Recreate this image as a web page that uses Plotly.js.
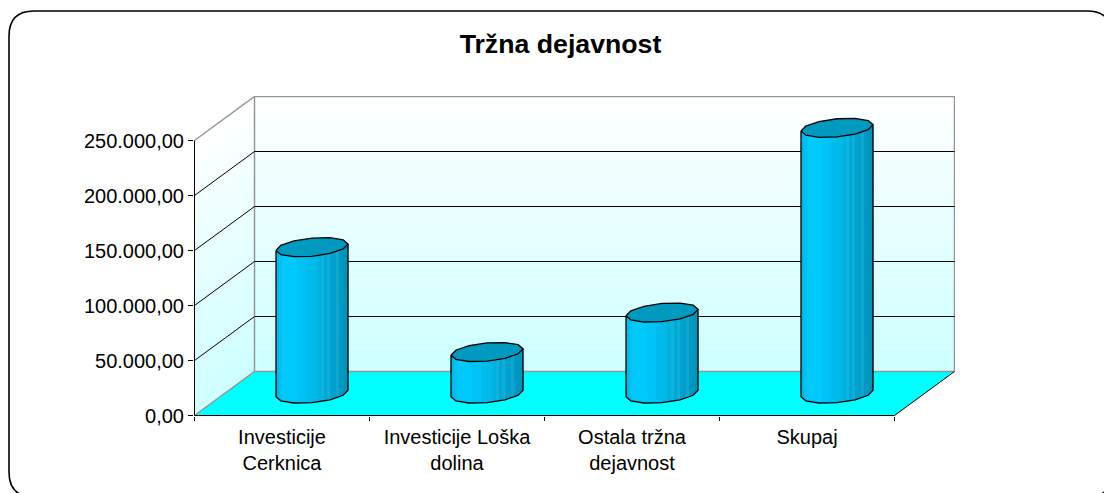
<!DOCTYPE html>
<html>
<head>
<meta charset="utf-8">
<script src="https://cdn.plot.ly/plotly-3.0.1.min.js"></script>
<style>html,body{margin:0;padding:0;background:#fff;overflow:hidden}</style>
</head>
<body>
<div id="chart" style="width:1104px;height:493px"></div>
<script>
const categories = ['Investicije<br>Cerknica', 'Investicije Loška<br>dolina', 'Ostala tržna<br>dejavnost', 'Skupaj'];
const values = [133000, 37700, 73600, 241500];
const yTicks = [0, 50000, 100000, 150000, 200000, 250000];
const titleText = 'Tržna dejavnost';

const W = 1104, H = 493;
const M = {l: 194, r: 149, t: 96, b: 77};
const PXX = 1 / 175, PXY = 250000 / 275;   // axis units per pixel
const DX = 60 * PXX, DY = 40000;           // depth of the 3D box, in axis units
const XEND = 4 + DX, YEND = 250000 + DY;
const RX = 36 * PXX, RY = 9.1 * PXY, SL = 3.2 * PXY;
const stripColors = ['#00B9E8','#00C2F2','#08C6F7','#00CAFC','#00CAFC','#00CAFC','#00C9FA','#00C4F5','#00C4F5','#00C3F3',
  '#00BCEC','#00BCEC','#00BAEA','#00B7E6','#00B0DE','#10B3DE','#00A9D5','#10ADD7','#00A3CF','#00A0CC','#0EA6CF','#0099C4','#0096BE','#0092B8'];
const capColor = '#0099BF', floorColor = '#00FFFF';

function mix(t) { // pale cyan at t=0 to white at t=1
  const r = Math.round(204 + 51 * t);
  return 'rgb(' + r + ',255,255)';
}

const shapes = [];
const BANDS = 36;
for (let b = 0; b < BANDS; b++) {
  const v0 = 250000 * b / BANDS, v1 = 250000 * (b + 1) / BANDS, c = mix((b + 0.5) / BANDS);
  shapes.push({type: 'rect', layer: 'below', xref: 'x', yref: 'y', x0: DX, x1: XEND, y0: v0 + DY, y1: v1 + DY,
    line: {width: 0}, fillcolor: c});
  shapes.push({type: 'path', layer: 'below', xref: 'x', yref: 'y',
    path: `M0,${v0} L${DX},${v0 + DY} L${DX},${v1 + DY} L0,${v1} Z`, line: {width: 0}, fillcolor: c});
}
shapes.push({type: 'path', layer: 'below', xref: 'x', yref: 'y',
  path: `M0,0 L4,0 L${XEND},${DY} L${DX},${DY} Z`, line: {width: 0}, fillcolor: floorColor});

// rounded outer frame (partly beyond the page edge, as in the reference)
const pw = W - M.l - M.r, ph = H - M.t - M.b;
const fx = p => (p - M.l) / pw, fy = p => 1 - (p - M.t) / ph;
const L = 9, T = 11, R = 1112, B = 497, C = 25;
shapes.push({type: 'path', xref: 'paper', yref: 'paper', layer: 'above',
  path: `M${fx(L + C)},${fy(T)} L${fx(R - C)},${fy(T)} Q${fx(R)},${fy(T)} ${fx(R)},${fy(T + C)} L${fx(R)},${fy(B - C)} Q${fx(R)},${fy(B)} ${fx(R - C)},${fy(B)} L${fx(L + C)},${fy(B)} Q${fx(L)},${fy(B)} ${fx(L)},${fy(B - C)} L${fx(L)},${fy(T + C)} Q${fx(L)},${fy(T)} ${fx(L + C)},${fy(T)} Z`,
  line: {color: '#000', width: 1.6}, fillcolor: 'rgba(0,0,0,0)'});

const traces = [];
// box lines
const gx = [], gy = [], bx = [], by = [];
function seg(ax, ay, xs, ys) { ax.push(...xs, null); ay.push(...ys, null); }
seg(gx, gy, [0, DX], [250000, YEND]);
seg(gx, gy, [DX, XEND, XEND], [YEND, YEND, DY]);
seg(gx, gy, [DX, DX], [DY, YEND]);
seg(gx, gy, [0, DX, XEND], [0, DY, DY]);
yTicks.slice(1, -1).forEach(v => {
  seg(bx, by, [0, DX, XEND], [v, v + DY, v + DY]);
});
seg(bx, by, [0, 0, 4, XEND], [250000, 0, 0, DY]);
traces.push({x: gx, y: gy, mode: 'lines', line: {color: '#969696', width: 1.5}, cliponaxis: false, hoverinfo: 'skip', showlegend: false});
traces.push({x: bx, y: by, mode: 'lines', line: {color: '#000', width: 1}, cliponaxis: false, hoverinfo: 'skip', showlegend: false});

// cylinders: the base outline is a coarse 12-sided polygon, as in the reference
const SEG = 6;
const knots = [];
for (let k = 0; k <= SEG; k++) knots.push(-Math.cos(Math.PI * k / SEG));
const lowK = u => -RY * Math.sqrt(Math.max(0, 1 - u * u)) + SL * u;
const upK  = u =>  RY * Math.sqrt(Math.max(0, 1 - u * u)) + SL * u;
function lower(u) {
  for (let k = 0; k < SEG; k++) {
    if (u <= knots[k + 1] + 1e-9) {
      const t = (u - knots[k]) / (knots[k + 1] - knots[k]);
      return lowK(knots[k]) + t * (lowK(knots[k + 1]) - lowK(knots[k]));
    }
  }
  return lowK(1);
}
const N = stripColors.length, base = DY / 2;
stripColors.forEach((col, s) => {
  const xs = [], ys = [];
  const u0 = -1 + 2 * s / N, u1 = -1 + 2 * (s + 1) / N;
  values.forEach((v, i) => {
    const cx = i + 0.5 + DX / 2, top = base + v;
    xs.push(cx + RX * u0, cx + RX * u1, cx + RX * u1, cx + RX * u0, null);
    ys.push(base + lower(u0), base + lower(u1), top + lower(u1), top + lower(u0), null);
  });
  traces.push({x: xs, y: ys, mode: 'lines', fill: 'toself', fillcolor: col, line: {color: col, width: 0.5},
    hoverinfo: 'skip', showlegend: false});
});
const ox = [], oy = [], tx = [], ty = [];
values.forEach((v, i) => {
  const cx = i + 0.5 + DX / 2, top = base + v;
  ox.push(cx - RX, cx - RX); oy.push(top + lowK(-1), base + lowK(-1));
  knots.slice(1).forEach(u => { ox.push(cx + RX * u); oy.push(base + lowK(u)); });
  ox.push(cx + RX, null); oy.push(top + lowK(1), null);
  knots.forEach(u => { tx.push(cx + RX * u); ty.push(top + lowK(u)); });
  knots.slice(1, -1).reverse().forEach(u => { tx.push(cx + RX * u); ty.push(top + upK(u)); });
  tx.push(cx - RX, null); ty.push(top + lowK(-1), null);
});
traces.push({x: tx, y: ty, mode: 'lines', fill: 'toself', fillcolor: capColor, line: {color: '#000', width: 1.3}, hoverinfo: 'skip', showlegend: false});
traces.push({x: ox, y: oy, mode: 'lines', line: {color: '#000', width: 1.3}, hoverinfo: 'skip', showlegend: false});

const font = {family: 'Liberation Sans, Arial, sans-serif', size: 20, color: '#000'};
const layout = {
  width: W, height: H, autosize: false, margin: {l: M.l, r: M.r, t: M.t, b: M.b, pad: 0},
  paper_bgcolor: '#fff', plot_bgcolor: '#fff', font: font, separators: ',.', showlegend: false,
  title: {text: '<b>' + titleText + '</b>', x: 560.5 / W, xanchor: 'center', xref: 'container', y: 1 - 44 / H, yanchor: 'middle', yref: 'container',
    font: {family: font.family, size: 26.7, color: '#000'}},
  xaxis: {range: [-0.5 * PXX, (955 - 194.5) * PXX], showgrid: false, zeroline: false, showline: false, fixedrange: true,
    tickmode: 'array', tickvals: categories.map((c, i) => i + 0.5), ticktext: categories, ticks: '', tickangle: 0, ticklabelstandoff: 7,
    tickfont: font, minor: {ticks: 'outside', ticklen: 4, tickwidth: 1, tickcolor: '#000', tick0: 0, dtick: 1, showgrid: false}},
  yaxis: {range: [-0.5 * PXY, (415.5 - 96) * PXY], showgrid: false, zeroline: false, showline: false, fixedrange: true,
    tickmode: 'array', tickvals: yTicks, tickformat: ',.2f', ticks: 'outside', ticklen: 5, tickwidth: 1, tickcolor: '#000', tickfont: font},
  shapes: shapes
};
Plotly.newPlot('chart', traces, layout, {displayModeBar: false, staticPlot: true});
</script>
</body>
</html>
